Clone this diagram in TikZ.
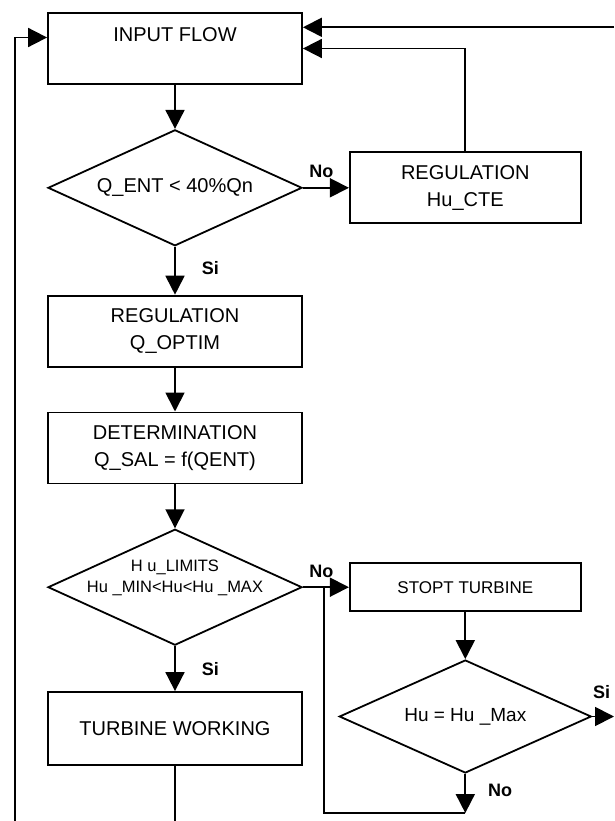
\documentclass[tikz,border=0pt]{standalone}
\usepackage{fontspec}
\setmainfont{Liberation Sans}
\usetikzlibrary{shapes.geometric, arrows.meta, positioning}

\begin{document}
\begin{tikzpicture}[
        node distance=44pt and 46pt,
        block/.style={rectangle, draw, line width=1.8pt, minimum width=254pt, minimum height=71pt, align=center, font=\fontsize{20}{27.5}\selectfont},
        sideblock/.style={block, minimum width=231pt},
        decision/.style={diamond, draw, line width=1.8pt, minimum width=254pt, minimum height=116pt, aspect=2.2, inner sep=-6pt, align=center, font=\fontsize{20}{24}\selectfont},
        arrow/.style={-{Triangle[length=19pt, width=19pt]}, line width=1.8pt},
        answer/.style={font=\bfseries\fontsize{18}{20}\selectfont, inner sep=1pt}
    ]
        \useasboundingbox (0,0) rectangle (614pt,-821pt);
        \node[block] (input) at (175pt,-48.5pt) {INPUT FLOW\\ \mbox{}};
        \node[decision, below=of input] (qent) {Q\_ENT < 40\%Qn};
        \node[sideblock, right=of qent] (hucte) {REGULATION\\Hu\_CTE};
        \node[block, below=48pt of qent] (qoptim) {REGULATION\\Q\_OPTIM};
        \node[block, below=of qoptim] (qsal) {DETERMINATION\\Q\_SAL = f(QENT)};
        \node[decision, below=of qsal, inner ysep=-12pt, font=\fontsize{16.5}{21.5}\selectfont] (limits) {H u\_LIMITS\\Hu \_MIN<Hu<Hu \_MAX\\ \mbox{}};
        \node[block, below=45pt of limits, minimum height=73pt] (working) {TURBINE WORKING};
        \node[sideblock, right=of limits, minimum height=48pt, font=\fontsize{17}{20}\selectfont] (stopt) {STOPT TURBINE};
        \node[decision, below=47pt of stopt, minimum width=252pt, minimum height=113pt, font=\fontsize{19}{22}\selectfont] (humax) {Hu = Hu \_Max};

        \coordinate (loopL) at (15pt,-821pt);
        \coordinate (loopR) at (614pt,-27.3pt);
        \coordinate (back) at (324pt,-813pt);

        \draw[arrow] (input) -- (qent);
        \draw[arrow] (qent) -- node[answer, pos=0.4, above=8pt] {No} (hucte);
        \draw[arrow] (hucte) |- (input);
        \draw[arrow] (loopR) -- (loopR -| input.east);
        \draw[arrow] (qent) -- node[answer, pos=0.45, right=25pt] {Si} (qoptim);
        \draw[arrow] (qoptim) -- (qsal);
        \draw[arrow] (qsal) -- (limits);
        \draw[arrow] (limits) -- node[answer, pos=0.5, right=25pt] {Si} (working);
        \draw[arrow] (limits) -- node[answer, pos=0.4, above=8pt] {No} (stopt);
        \draw[arrow] (stopt) -- (humax);
        \draw[arrow] (humax) -- node[answer, pos=0.43, above=16pt] {Si} (humax.east -| loopR);
        \draw[arrow] (humax) -- node[answer, pos=0.42, right=21pt] {No} (humax.south |- back);
        \draw[line width=1.8pt] (humax.south |- back) -- (back) -- (back |- limits.east);
        \draw[line width=1.8pt] (working) -- (working.south |- loopL);
        \draw[arrow] (loopL) |- ([yshift=11pt]input.west);
    \end{tikzpicture}
\end{document}
